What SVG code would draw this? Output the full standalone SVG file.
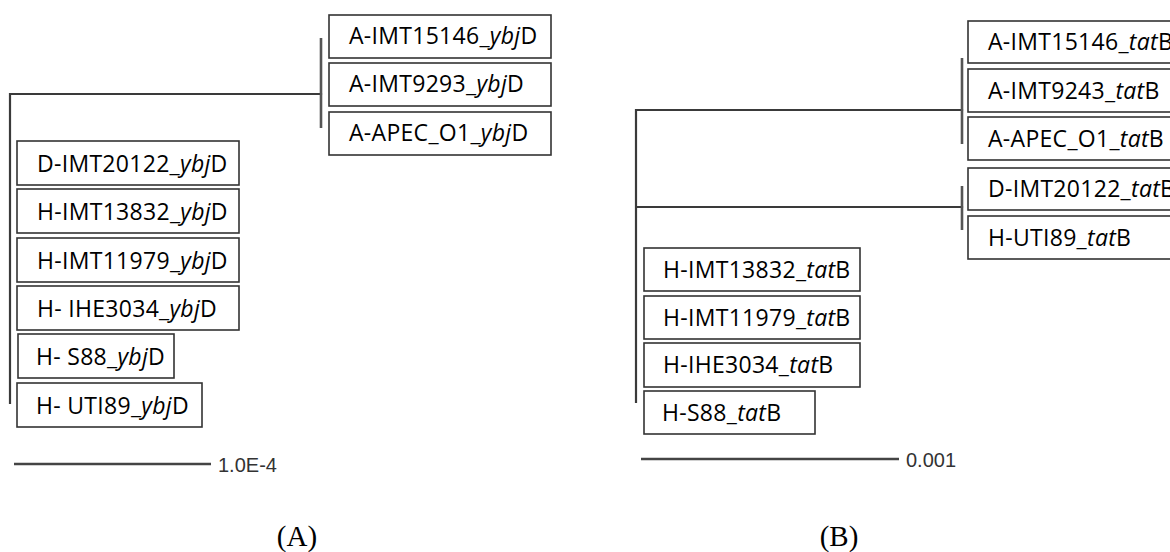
<svg xmlns="http://www.w3.org/2000/svg" width="1170" height="552" viewBox="0 0 1170 552">
<style>
.bg{fill:#ffffff}
.tree{stroke:#3a3a3a;stroke-width:2.2;fill:none;stroke-linecap:square}
.clade{stroke:#555555;stroke-width:2.6;fill:none}
.box{fill:#ffffff;stroke:#333333;stroke-width:1.6}
.lbl{font-family:"Open Sans","Liberation Sans",sans-serif;font-size:23px;fill:#000000;letter-spacing:0.3px}
.it{font-style:italic}
.scale{stroke:#444444;stroke-width:2.4}
.slbl{font-family:"Liberation Sans",Arial,sans-serif;font-size:20px;fill:#333333}
.cap{font-family:"Liberation Serif","Times New Roman",serif;font-size:29px;fill:#000000}
</style>
<rect class="bg" x="0" y="0" width="1170" height="552"/>
<g id="connectors">
  <path class="tree" d="M10,94 H321 M10,94 V403"/>
  <path class="clade" d="M321,38 V128"/>
  <path class="tree" d="M636,110 H962 M636,207 H962 M636,110 V402"/>
  <path class="clade" d="M962,58 V144 M962,186 V230"/>
</g>
<g id="panelA-nodes">
  <g id="a-imt15146"><rect class="box" x="329" y="15" width="222" height="43"/><text class="lbl" x="349" y="44">A-IMT15146_<tspan class="it">ybj</tspan>D</text></g>
  <g id="a-imt9293"><rect class="box" x="329" y="63" width="222" height="43"/><text class="lbl" x="349" y="92">A-IMT9293_<tspan class="it">ybj</tspan>D</text></g>
  <g id="a-apec"><rect class="box" x="329" y="112" width="222" height="43"/><text class="lbl" x="349" y="141">A-APEC_O1_<tspan class="it">ybj</tspan>D</text></g>
  <g id="d-imt20122"><rect class="box" x="17" y="141" width="222" height="44"/><text class="lbl" x="37" y="172">D-IMT20122_<tspan class="it">ybj</tspan>D</text></g>
  <g id="h-imt13832"><rect class="box" x="17" y="189" width="222" height="44"/><text class="lbl" x="37" y="220">H-IMT13832_<tspan class="it">ybj</tspan>D</text></g>
  <g id="h-imt11979"><rect class="box" x="17" y="238" width="222" height="44"/><text class="lbl" x="37" y="269">H-IMT11979_<tspan class="it">ybj</tspan>D</text></g>
  <g id="h-ihe3034"><rect class="box" x="17" y="286" width="222" height="44"/><text class="lbl" x="37" y="317">H- IHE3034_<tspan class="it">ybj</tspan>D</text></g>
  <g id="h-s88"><rect class="box" x="18" y="334" width="156" height="44"/><text class="lbl" x="36" y="365">H- S88_<tspan class="it">ybj</tspan>D</text></g>
  <g id="h-uti89"><rect class="box" x="17" y="383" width="185" height="44"/><text class="lbl" x="36" y="414">H- UTI89_<tspan class="it">ybj</tspan>D</text></g>
  <g id="scaleA"><line class="scale" x1="14" y1="464" x2="211" y2="464"/><text class="slbl" x="218" y="472">1.0E-4</text></g>
</g>
<g id="panelB-nodes">
  <g id="b-a-imt15146"><rect class="box" x="968" y="21" width="215" height="42"/><text class="lbl" x="988" y="50">A-IMT15146_<tspan class="it">tat</tspan>B</text></g>
  <g id="b-a-imt9243"><rect class="box" x="968" y="69" width="215" height="43"/><text class="lbl" x="988" y="99">A-IMT9243_<tspan class="it">tat</tspan>B</text></g>
  <g id="b-a-apec"><rect class="box" x="968" y="117" width="215" height="43"/><text class="lbl" x="988" y="147">A-APEC_O1_<tspan class="it">tat</tspan>B</text></g>
  <g id="b-d-imt20122"><rect class="box" x="968" y="168" width="215" height="42"/><text class="lbl" x="988" y="197">D-IMT20122_<tspan class="it">tat</tspan>B</text></g>
  <g id="b-h-uti89"><rect class="box" x="968" y="216" width="215" height="43"/><text class="lbl" x="988" y="246">H-UTI89_<tspan class="it">tat</tspan>B</text></g>
  <g id="b-h-imt13832"><rect class="box" x="644" y="248" width="216" height="43"/><text class="lbl" x="663" y="278">H-IMT13832_<tspan class="it">tat</tspan>B</text></g>
  <g id="b-h-imt11979"><rect class="box" x="644" y="296" width="216" height="43"/><text class="lbl" x="663" y="326">H-IMT11979_<tspan class="it">tat</tspan>B</text></g>
  <g id="b-h-ihe3034"><rect class="box" x="644" y="343" width="216" height="44"/><text class="lbl" x="663" y="373">H-IHE3034_<tspan class="it">tat</tspan>B</text></g>
  <g id="b-h-s88"><rect class="box" x="644" y="391" width="171" height="43"/><text class="lbl" x="662" y="421">H-S88_<tspan class="it">tat</tspan>B</text></g>
  <g id="scaleB"><line class="scale" x1="641" y1="459" x2="899" y2="459"/><text class="slbl" x="906" y="467">0.001</text></g>
</g>
<text class="cap" x="297" y="546" text-anchor="middle">(A)</text>
<text class="cap" x="839" y="546" text-anchor="middle">(B)</text>
</svg>
